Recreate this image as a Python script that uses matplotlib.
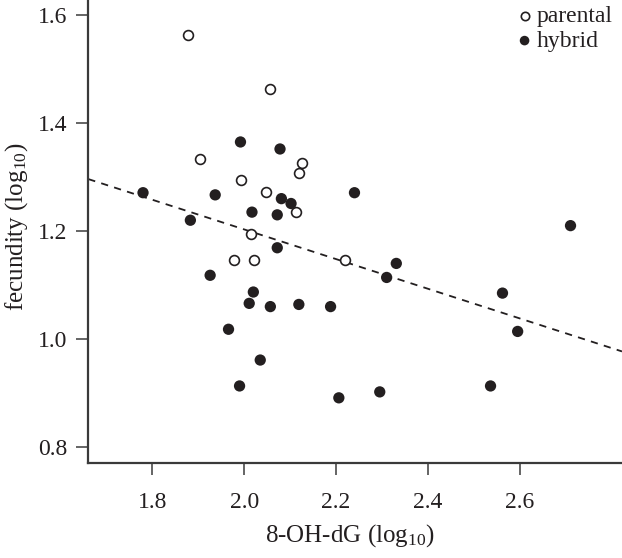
import numpy as np
import matplotlib
matplotlib.use('Agg')
import matplotlib.pyplot as plt

# parental (open circles)
par_x = [1.877, 2.056, 1.903, 2.125, 2.120, 1.993, 2.048, 2.113, 2.015, 1.979, 2.021, 2.219]
par_y = [1.564, 1.464, 1.334, 1.326, 1.307, 1.294, 1.272, 1.235, 1.194, 1.146, 1.146, 1.146]

# hybrid (filled circles)
hyb_x = [1.992, 2.078, 1.780, 1.937, 2.240, 2.081, 2.102, 2.017, 2.072, 1.883,
         2.072, 1.926, 2.020, 2.011, 2.057, 2.119, 2.188, 1.966, 2.035, 1.990,
         2.206, 2.710, 2.331, 2.310, 2.562, 2.595, 2.295, 2.536]
hyb_y = [1.365, 1.352, 1.271, 1.267, 1.271, 1.260, 1.251, 1.235, 1.230, 1.220,
         1.169, 1.118, 1.087, 1.066, 1.060, 1.064, 1.060, 1.018, 0.961, 0.913,
         0.891, 1.210, 1.140, 1.114, 1.085, 1.014, 0.902, 0.913]

# regression line
fit_intercept = 1.753
fit_slope = -0.275

xticks = [1.8, 2.0, 2.2, 2.4, 2.6]
yticks = [0.8, 1.0, 1.2, 1.4, 1.6]

ink = '#231f20'
plt.rcParams['font.family'] = ['Liberation Serif', 'DejaVu Serif']
plt.rcParams['mathtext.fontset'] = 'custom'
plt.rcParams['mathtext.rm'] = 'Liberation Serif'
plt.rcParams['mathtext.it'] = 'Liberation Serif:italic'

fig = plt.figure(figsize=(6.22, 5.58), dpi=100)
ax = fig.add_axes([0.142, 0.170, 0.858, 0.830])

ax.scatter(par_x, par_y, s=50, facecolors='white', edgecolors=ink, linewidths=1.2,
           label='parental', zorder=3)
ax.scatter(hyb_x, hyb_y, s=66, color=ink, edgecolors='none', label='hybrid', zorder=3)

ax.set_xlim(1.661, 2.822)
ax.set_ylim(0.770, 1.628)
ax.axline((0, fit_intercept), slope=fit_slope, color=ink, lw=1.3,
          linestyle=(0, (4, 3.5)), zorder=2)

ax.set_xticks(xticks)
ax.set_yticks(yticks)
ax.set_xticklabels(['%.1f' % v for v in xticks])
ax.set_yticklabels(['%.1f' % v for v in yticks])

for s in ['top', 'right']:
    ax.spines[s].set_visible(False)
for s in ['left', 'bottom']:
    ax.spines[s].set_color('#3a3a3a')
    ax.spines[s].set_linewidth(1.6)

ax.tick_params(axis='both', direction='out', length=8.5, width=1.1, color='#3a3a3a',
               labelsize=17, labelcolor=ink)
ax.tick_params(axis='x', pad=12)
ax.tick_params(axis='y', pad=6.5)

ax.set_xlabel('8-OH-dG (log$_{10}$)', fontsize=18, color=ink)
ax.set_ylabel('fecundity (log$_{10}$)', fontsize=18, color=ink)
ax.xaxis.set_label_coords(0.49, -0.128)
ax.yaxis.set_label_coords(-0.109, 0.51)

leg = ax.legend(loc='upper right', bbox_to_anchor=(0.993, 1.0), frameon=False, fontsize=17,
                handletextpad=0.0, borderaxespad=0.0, borderpad=0.25, labelspacing=0.12,
                handlelength=1.0, markerscale=0.85)
for t in leg.get_texts():
    t.set_color(ink)

fig.savefig('out.png', dpi=100)
